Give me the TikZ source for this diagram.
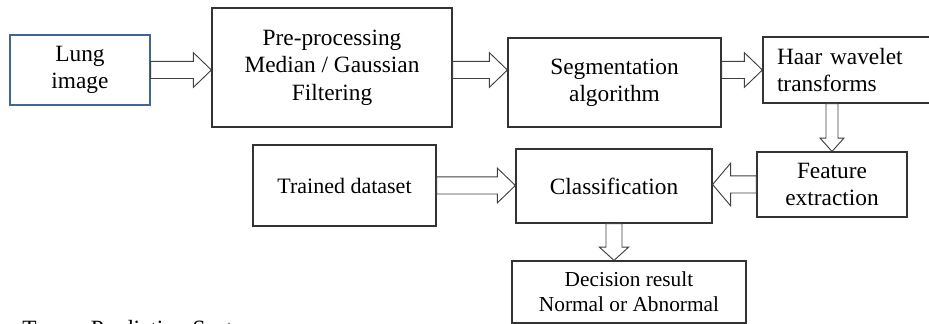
\documentclass[tikz,border=0pt]{standalone}
\usepackage{fontspec}
\setmainfont{Liberation Serif}
\usetikzlibrary{calc}

\begin{document}
\begin{tikzpicture}[x=0.75pt,y=-0.75pt,
main node/.style={rectangle,draw=black!80,line width=0.9pt,align=center,inner sep=0pt,
  font=\fontsize{17.5}{20.5}\selectfont},
small node/.style={main node,font=\fontsize{16.5}{19}\selectfont},
block/.code n args={3}{\def\shw{#1}\def\hhw{#2}\def\hln{#3}},
hollow/.style={draw=black!75,line width=0.7pt,block={6.4pt}{13pt}{13.5pt},
  to path={let \p3=($(\tikztotarget)!\hln!(\tikztostart)$) in
  ($(\tikztostart)!\shw!90:(\tikztotarget)$) -- ($(\p3)!\shw!90:(\tikztotarget)$)
  -- ($(\p3)!\hhw!90:(\tikztotarget)$) -- (\tikztotarget)
  -- ($(\p3)!\hhw!-90:(\tikztotarget)$) -- ($(\p3)!\shw!-90:(\tikztotarget)$)
  -- ($(\tikztostart)!\shw!-90:(\tikztotarget)$) -- cycle}}]
\useasboundingbox (0, 0) rectangle (929, 324);
\node[main node,draw={rgb,255:red,65;green,100;blue,160},minimum width=105pt,minimum height=52.5pt] (1) at (80, 70) {Lung\\image};
\node[main node,minimum width=180pt,minimum height=89.25pt] (2) at (332, 67.5) {Pre-processing\\Median / Gaussian\\Filtering};
\node[main node,minimum width=159.75pt,minimum height=66.75pt] (3) at (614.5, 82.5) {Segmentation\\algorithm};
\node[main node,align=left,inner xsep=10.5pt,text width=108pt,minimum height=49.5pt] (4) at (849, 70) {Haar wavelet\\transforms};
\node[main node,minimum width=112.5pt,minimum height=48.75pt] (5) at (832, 184.5) {Feature\\extraction};
\node[main node,minimum width=147pt,minimum height=55.5pt] (6) at (614, 186) {Classification};
\node[small node,font=\fontsize{16}{19}\selectfont,minimum width=175.5pt,minimum height=46.5pt] (7) at (629, 292) {Decision result\\Normal or Abnormal};
\node[small node,minimum width=137.25pt,minimum height=60.75pt] (8) at (344.5, 185.5) {Trained dataset};
\node[anchor=base west,inner sep=0pt,font=\fontsize{17.5}{20}\selectfont] (9) at (22, 336) {Tumor Prediction System};
\draw[hollow] (1.east) to (1.east -| 2.west);
\draw[hollow] (2.east |- 4.west) to (3.west |- 4.west);
\draw[hollow] (3.east |- 4.west) to (4.west);
\draw[hollow,block={4.5pt}{9pt}{10pt}] (4.south -| 5.north) to (5.north);
\draw[hollow,block={6.4pt}{16pt}{13.5pt}] (5.west) to (5.west -| 6.east);
\draw[hollow] (8.east) to (8.east -| 6.west);
\draw[hollow,block={6pt}{11pt}{10pt}] (6.south) to (6.south |- 7.north);
\end{tikzpicture}
\end{document}
